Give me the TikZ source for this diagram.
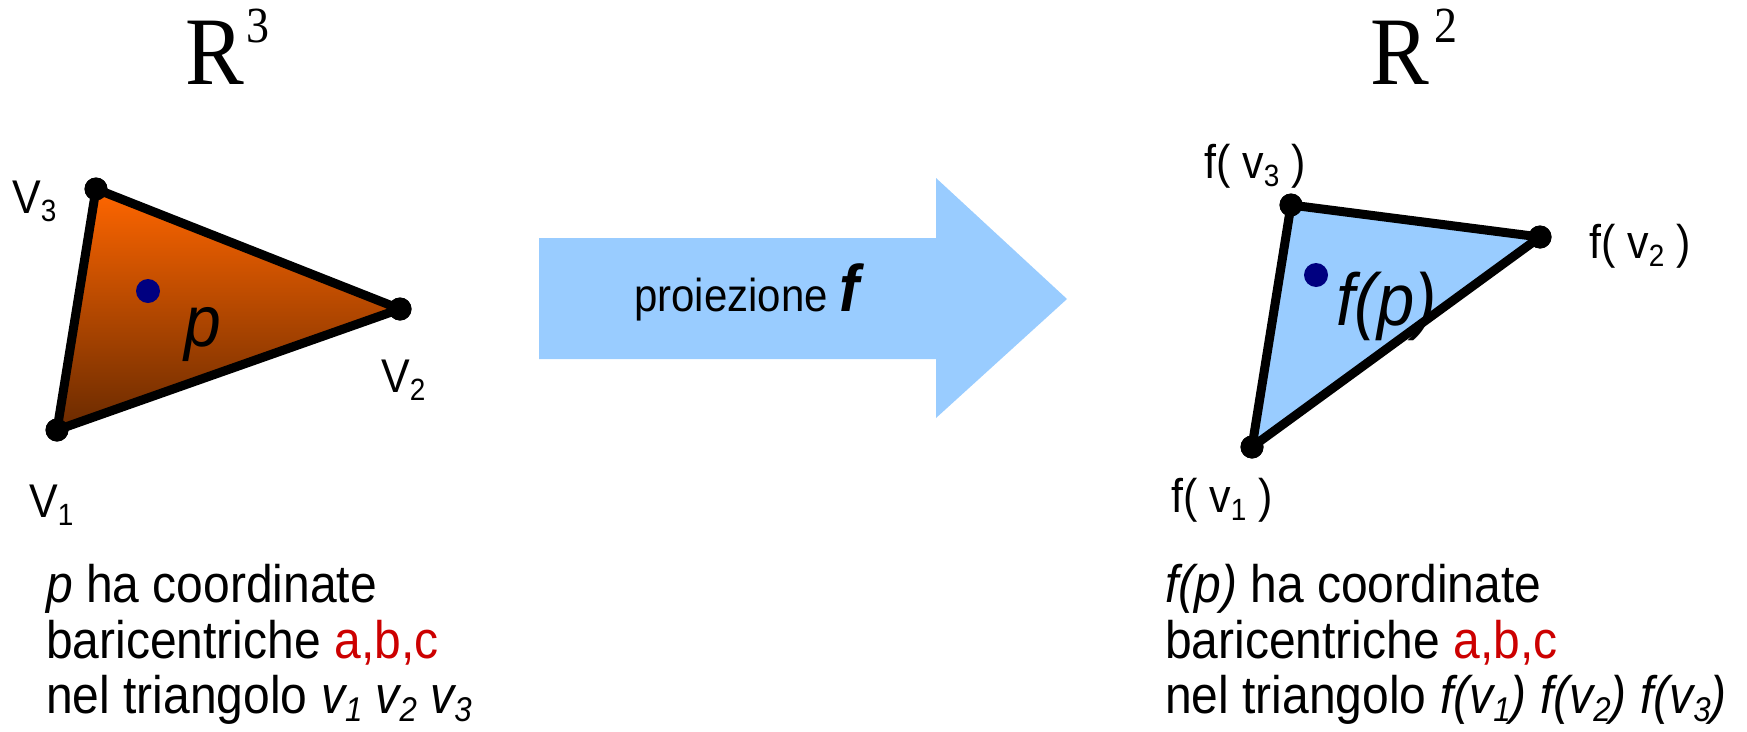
\documentclass[tikz,border=0pt]{standalone}
\usepackage{fontspec}
\usepackage{graphicx}
\setmainfont{Liberation Sans}
\newfontfamily\serifR{Liberation Serif}
\definecolor{orangetop}{RGB}{255,102,0}
\definecolor{orangebot}{RGB}{105,42,0}
\definecolor{skyblue}{RGB}{153,204,255}
\definecolor{navydot}{RGB}{0,0,128}
\definecolor{coordred}{RGB}{204,0,0}
\newcommand\fs[1]{\fontsize{#1}{#1}\selectfont}
\newcommand\lowered[1]{\raisebox{-0.17em}{\scalebox{0.65}{#1}}}
% slide lettering is slightly taller than the plain font
\newcommand\tall[1]{\scalebox{1}[1.1]{#1}}
\tikzset{
  vertexdot/.style={circle, fill=black, inner sep=0pt, minimum size=23pt},
  pointdot/.style={circle, fill=navydot, inner sep=0pt, minimum size=24pt},
  edge/.style={line width=9pt, line join=round, black},
  txt/.style={anchor=base west, inner sep=0pt},
  vlabel/.style={txt, font=\fs{43}},
  body/.style={txt, font=\fs{48}},
  title/.style={txt, font=\serifR\fs{88}},
  titleexp/.style={txt, font=\serifR\fs{46}},
}
\begin{document}
\begin{tikzpicture}[x=1pt,y=-1pt]
\useasboundingbox (0,0) rectangle (1747,731);

% titles
\node[title] (tR3) at (185,84) {\tall{R}};
\node[titleexp] (tR3e) at (246,42) {\tall{3}};
\node[title] (tR2) at (1370,84) {\tall{R}};
\node[titleexp] (tR2e) at (1434,42) {\tall{2}};

% triangle in R^3
\node[vertexdot] (v1) at (57,430) {};
\node[vertexdot] (v2) at (400,309) {};
\node[vertexdot] (v3) at (96,189) {};
\path[top color=orangetop, bottom color=orangebot]
  (v1.center) -- (v2.center) -- (v3.center) -- cycle;
\draw[edge] (v1.center) -- (v2.center) -- (v3.center) -- cycle;
\node[vertexdot] at (v1) {};
\node[vertexdot] at (v2) {};
\node[vertexdot] at (v3) {};
\node[pointdot] (p) at (148,291) {};
\node[txt, font=\fs{66}\itshape] (plab) at (184,346) {\tall{p}};
\node[vlabel] (v3lab) at (12,213) {\tall{V\lowered{3}}};
\node[vlabel] (v2lab) at (381,392) {\tall{V\lowered{2}}};
\node[vlabel] (v1lab) at (29,517) {\tall{V\lowered{1}}};

% projection arrow
\path[fill=skyblue] (539,238) -- (936,238) -- (936,178) -- (1067,299)
  -- (936,418) -- (936,359) -- (539,359) -- cycle;
\node[txt] (proj) at (634,311) {\tall{\fs{42}proiezione \fs{60}\bfseries\itshape f}};

% triangle in R^2
\node[vertexdot] (f1) at (1252,447) {};
\node[vertexdot] (f2) at (1540,237) {};
\node[vertexdot] (f3) at (1291,205) {};
\path[fill=skyblue] (f1.center) -- (f2.center) -- (f3.center) -- cycle;
\draw[edge] (f1.center) -- (f2.center) -- (f3.center) -- cycle;
\node[vertexdot] at (f1) {};
\node[vertexdot] at (f2) {};
\node[vertexdot] at (f3) {};
\node[pointdot] (fp) at (1316,275) {};
\node[txt, font=\fs{67}\itshape] (fplab) at (1336,325) {\tall{f(p)}};
\node[vlabel] (f3lab) at (1204,178) {\tall{f( v\lowered{3} )}};
\node[vlabel] (f2lab) at (1589,258) {\tall{f( v\lowered{2} )}};
\node[vlabel] (f1lab) at (1171,512) {\tall{f( v\lowered{1} )}};

% captions
\node[body] (la) at (46,602) {\tall{\textit{p} ha coordinate}};
\node[body] (lb) at (46,658) {\tall{baricentriche \textcolor{coordred}{a,b,c}}};
\node[body] (lc) at (46,713) {\tall{nel triangolo \textit{v\lowered{1} v\lowered{2} v\lowered{3}}}};
\node[body] (ra) at (1165,602) {\tall{\textit{f(p)} ha coordinate}};
\node[body] (rb) at (1165,658) {\tall{baricentriche \textcolor{coordred}{a,b,c}}};
\node[body] (rc) at (1165,713) {\tall{nel triangolo \textit{f(v\lowered{1}) f(v\lowered{2}) f(v\lowered{3})}}};
\end{tikzpicture}
\end{document}
